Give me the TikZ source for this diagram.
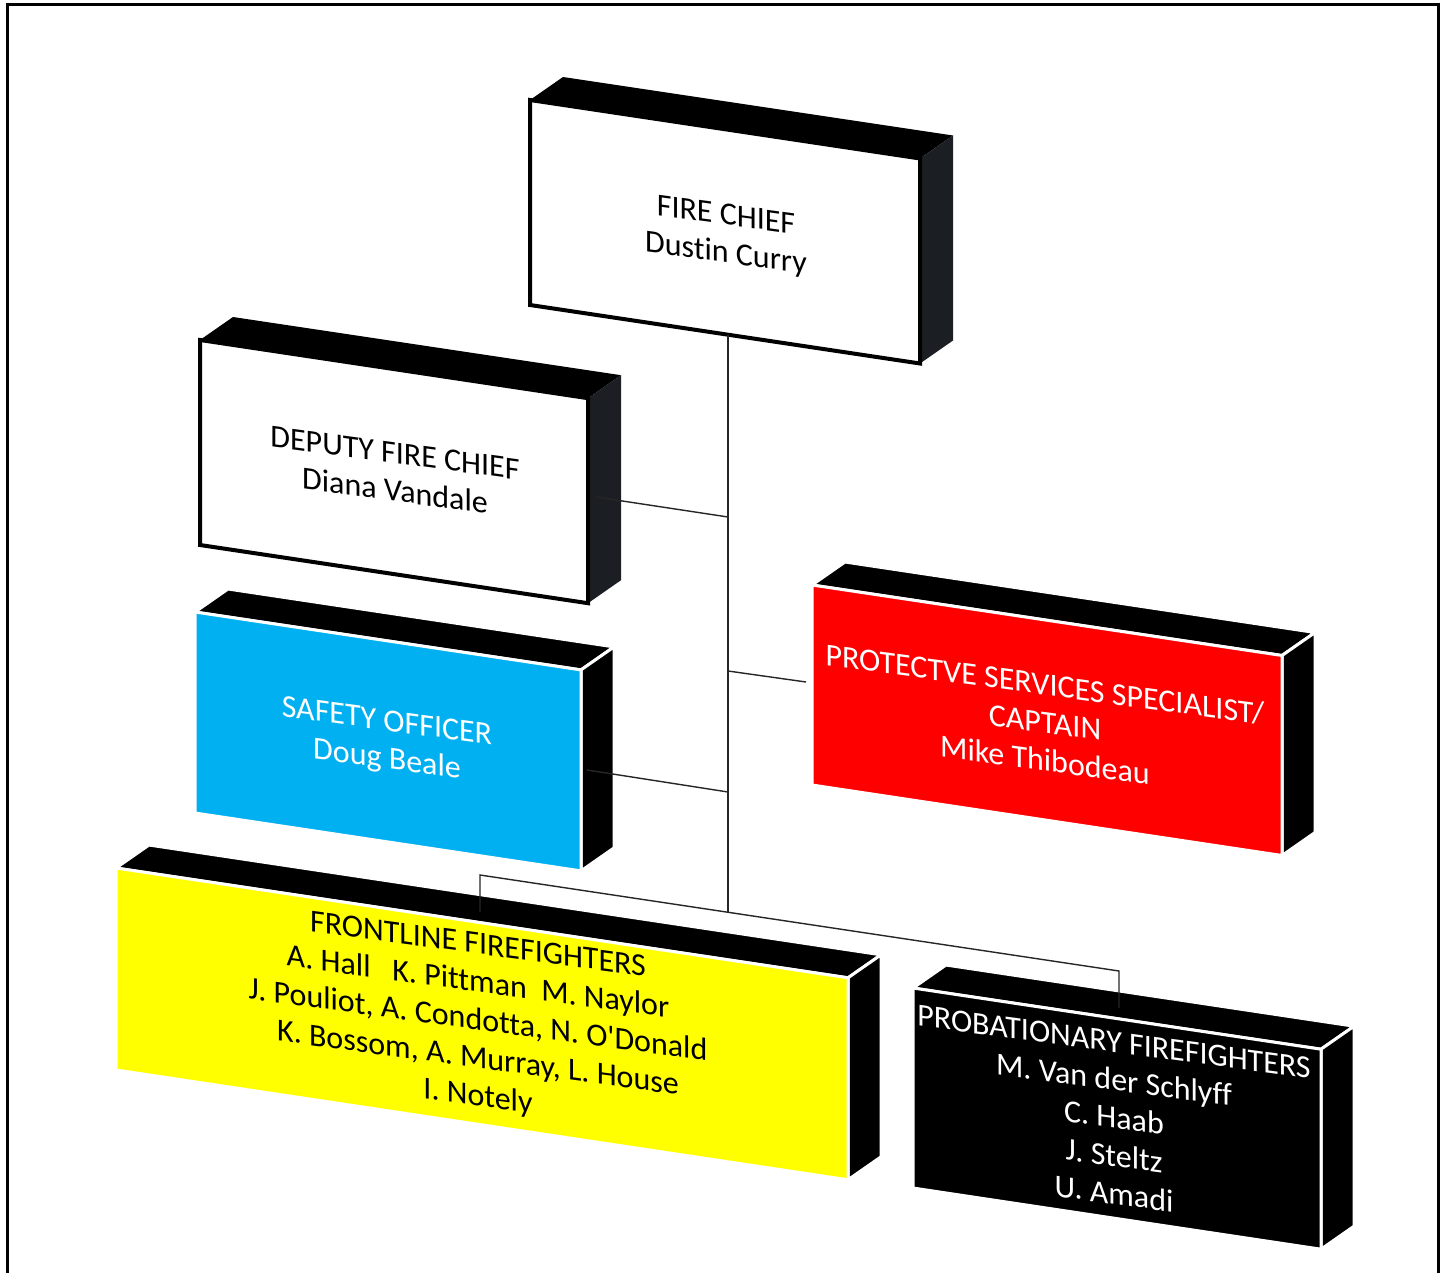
\documentclass[tikz,border=0pt]{standalone}
\usepackage{fontspec}
\setmainfont{Carlito}[Ligatures={NoCommon}]
\usepackage{tikz}

\definecolor{safetyblue}{HTML}{00B0F0}
\definecolor{protectred}{HTML}{FF0000}
\definecolor{frontyellow}{HTML}{FFFF00}
\definecolor{sidegray}{HTML}{1B1F23}

\tikzset{
	orgtext/.style={align=center, yslant=-0.135, inner sep=0pt, font=\fontsize{32}{38}\selectfont},
	link/.style={line width=1.4pt, draw=black!85},
}

\begin{document}
\begin{tikzpicture}[x=1pt,y=-1pt]
		\useasboundingbox (0,0) rectangle (1447,1273);
		\clip (0,0) rectangle (1447,1273);
		
		% Frame
		\draw[line width=3pt] (7,1290) -- (7,5) -- (1438,5) -- (1438,1290);
		
		% White boxes with black rim
		\foreach \x/\y/\w/\h in {530/100/390/205, 200/340/388/205} {
			\fill[black] (\x,\y) -- ++(33,-23) -- ++(\w,0.15*\w) -- ++(-33,23) -- cycle;
			\fill[sidegray] (\x+\w,\y+0.15*\w) -- ++(33,-23) -- ++(0,\h) -- ++(-33,23) -- cycle;
			\filldraw[fill=white, draw=black, line width=4pt] (\x,\y) -- ++(\w,0.15*\w) -- ++(0,\h) -- ++(-\w,-0.15*\w) -- cycle;
		}
		
		% Coloured boxes with white rim
		\foreach \x/\y/\w/\h/\col in {195/612/386/201/safetyblue, 812/585/470/200/protectred, 116/868/732/202/frontyellow, 913/988/408/200/black} {
			\filldraw[fill=black, draw=white, line width=3pt] (\x,\y) -- ++(33,-23) -- ++(\w,0.15*\w) -- ++(-33,23) -- cycle;
			\filldraw[fill=black, draw=white, line width=3pt] (\x+\w,\y+0.15*\w) -- ++(33,-23) -- ++(0,\h) -- ++(-33,23) -- cycle;
			\filldraw[fill=\col, draw=white, line width=3pt] (\x,\y) -- ++(\w,0.15*\w) -- ++(0,\h) -- ++(-\w,-0.15*\w) -- cycle;
		}
		
		% Labels
		\node[orgtext] (chief) at (726,236) {FIRE CHIEF\\Dustin Curry};
		\node[orgtext] (deputy) at (395,472) {DEPUTY FIRE CHIEF\\Diana Vandale};
		\node[orgtext, text=white] (safety) at (387,742) {SAFETY OFFICER\\Doug Beale};
		\node[orgtext, text=white] (protect) at (1045,722) {PROTECTVE SERVICES SPECIALIST/\\CAPTAIN\\Mike Thibodeau};
		\node[orgtext] (frontline) at (478,1022) {FRONTLINE FIREFIGHTERS\\A. Hall\ \ \ K. Pittman\ \ M. Naylor\\J. Pouliot, A. Condotta, N. O\textquotesingle Donald\\K. Bossom, A. Murray, L. House\\I. Notely};
		\node[orgtext, text=white] (prob) at (1114,1118) {PROBATIONARY FIREFIGHTERS\\M. Van der Schlyff\\C. Haab\\J. Steltz\\U. Amadi};
		
		% Connector points
		\coordinate (spine-top) at (728,335);
		\coordinate (spine-bot) at (728,912);
		\coordinate (deputy-e) at (596,497);
		\coordinate (deputy-j) at (728,517);
		\coordinate (protect-j) at (728,671);
		\coordinate (protect-w) at (806,682);
		\coordinate (safety-e) at (587,770);
		\coordinate (safety-j) at (728,792);
		\coordinate (front-n) at (480,912);
		\coordinate (front-j) at (480,875);
		\coordinate (prob-j) at (1119,971);
		\coordinate (prob-n) at (1119,1008);
		
		% Connectors
		\draw[link, line width=1.8pt] (spine-top) -- (spine-bot);
		\draw[link] (deputy-e) -- (deputy-j);
		\draw[link] (protect-j) -- (protect-w);
		\draw[link] (safety-e) -- (safety-j);
		\draw[link] (front-n) -- (front-j) -- (prob-j) -- (prob-n);
	\end{tikzpicture}
\end{document}
